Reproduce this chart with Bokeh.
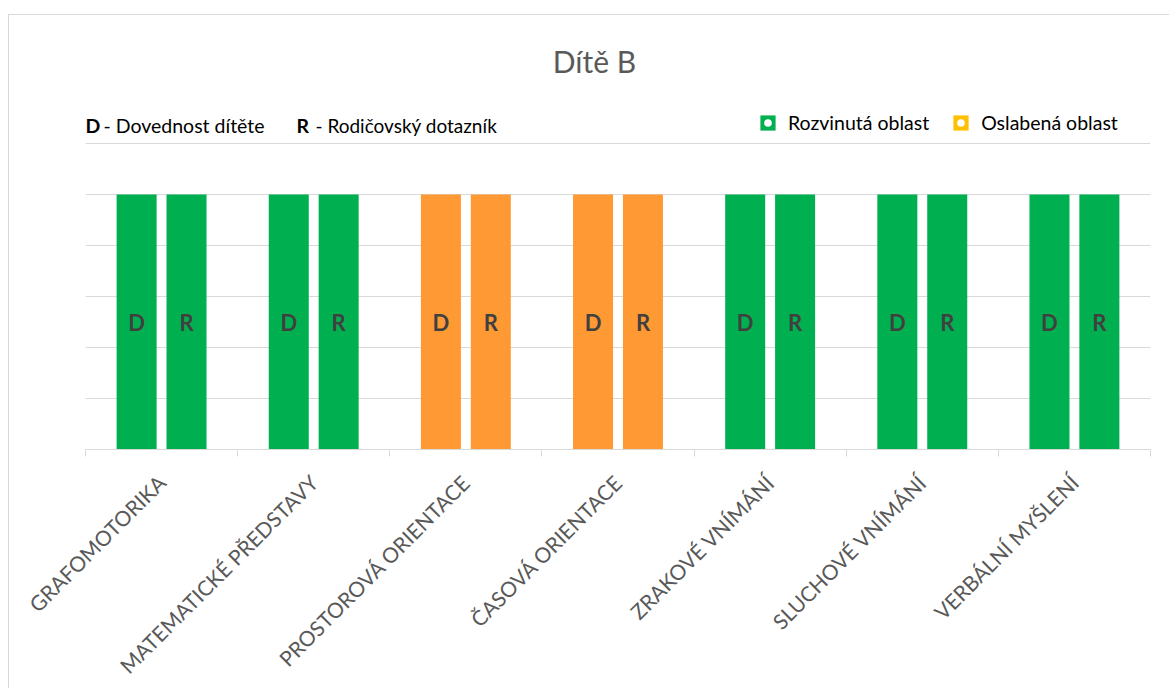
import numpy as np
from bokeh.plotting import figure
from bokeh.models import (ColumnDataSource, FixedTicker, Label, Legend, LegendItem, Range1d)
from bokeh.core.properties import value
from bokeh.embed import file_html
from bokeh.resources import INLINE

# --- data -------------------------------------------------------------
categories = [
    "GRAFOMOTORIKA",
    "MATEMATICKÉ PŘEDSTAVY",
    "PROSTOROVÁ ORIENTACE",
    "ČASOVÁ ORIENTACE",
    "ZRAKOVÉ VNÍMÁNÍ",
    "SLUCHOVÉ VNÍMÁNÍ",
    "VERBÁLNÍ MYŠLENÍ",
]
skill_values = [5, 5, 5, 5, 5, 5, 5]        # D - Dovednost dítěte
parent_values = [5, 5, 5, 5, 5, 5, 5]       # R - Rodičovský dotazník
skill_status = ["R", "R", "O", "O", "R", "R", "R"]    # R = rozvinutá, O = oslabená
parent_status = ["R", "R", "O", "O", "R", "R", "R"]
series_letters = ["D", "R"]
grid_levels = [1, 2, 3, 4, 5, 6]

# --- styling ----------------------------------------------------------
FONT = "Lato"
GREEN = "#00B050"
ORANGE = "#FF9933"
GOLD = "#FFC000"
GRID = "#D9D9D9"
bar_colors = {"R": GREEN, "O": ORANGE}

n = len(categories)
centers = np.arange(n) + 0.5
bar_w = 0.263
offset = 0.164

xs, tops, colors, letters = [], [], [], []
for i in range(n):
    for k, (vals, stat) in enumerate([(skill_values, skill_status), (parent_values, parent_status)]):
        xs.append(centers[i] + (-offset if k == 0 else offset))
        tops.append(vals[i])
        colors.append(bar_colors[stat[i]])
        letters.append(series_letters[k])

src = ColumnDataSource(dict(x=xs, top=tops, mid=[t / 2 for t in tops], color=colors, letter=letters))

# the plotting frame also holds the heading area above the top gridline
FRAME_H = 434
GRID_H = 306
y_end = max(grid_levels) * FRAME_H / GRID_H

p = figure(
    width=1161, height=674,
    x_range=Range1d(0, n), y_range=Range1d(0, y_end),
    output_backend="svg", toolbar_location=None,
    min_border_left=76, min_border_right=20, min_border_top=0, min_border_bottom=240,
)
p.styles = {
    "margin-left": "8px", "margin-top": "14px",
    "border-left": f"1px solid {GRID}", "border-top": f"1px solid {GRID}",
}
p.outline_line_color = None
p.background_fill_color = "white"
p.border_fill_color = "white"

p.vbar(x="x", top="top", bottom=0, width=bar_w, source=src, fill_color="color", line_color=None)
p.text(x="x", y="mid", text="letter", source=src, text_font=value(FONT), text_font_style="bold",
       text_font_size="22px", text_color="#404040", text_align="center", text_baseline="middle")

# axes / grid
p.yaxis.visible = False
p.ygrid.ticker = FixedTicker(ticks=grid_levels)
p.ygrid.grid_line_color = GRID
p.ygrid.grid_line_width = 1
p.xgrid.visible = False

xa = p.xaxis[0]
xa.ticker = FixedTicker(ticks=list(centers), minor_ticks=list(range(n + 1)))
xa.major_label_overrides = {float(c): name for c, name in zip(centers, categories)}
xa.major_tick_line_color = None
xa.minor_tick_line_color = GRID
xa.minor_tick_out = 7
xa.minor_tick_in = 0
xa.axis_line_color = GRID
xa.major_label_orientation = np.pi / 4
xa.major_label_text_font = FONT
xa.major_label_text_font_size = "21px"
xa.major_label_text_color = "#595959"
xa.major_label_standoff = 22

# legend: coloured square with a white dot
keys = []
for color in (GREEN, GOLD):
    sq = p.vbar(x=centers, top=skill_values, width=0, fill_color=color, line_color=None)
    dot = p.scatter(x=centers, y=skill_values, size=0, marker="circle", fill_color="white", line_color=None)
    keys.append([sq, dot])
legend = Legend(
    items=[LegendItem(label="Rozvinutá oblast", renderers=keys[0]),
           LegendItem(label="Oslabená oblast", renderers=keys[1])],
    orientation="horizontal", location=(673, 315),
    glyph_width=19, glyph_height=19, label_standoff=11, spacing=22,
    padding=0, margin=0, border_line_color=None, background_fill_alpha=0,
    label_text_font=FONT, label_text_font_size="19.5px", label_text_color="#000000",
)
p.add_layout(legend)

# title and series key
def add_label(text, x, y, size, color, style="normal", align="left"):
    p.add_layout(Label(x=x, y=y, x_units="screen", y_units="screen", text=text,
                       text_font=FONT, text_font_size=size, text_color=color,
                       text_font_style=style, text_align=align, text_baseline="middle"))

add_label("Dítě B", 509, 389, "30px", "#595959", align="center")
add_label("D", 0, 324, "19.5px", "#000000", style="bold")
add_label("- Dovednost dítěte", 18, 324, "19.5px", "#000000")
add_label("R", 211, 324, "19.5px", "#000000", style="bold")
add_label("- Rodičovský dotazník", 230, 324, "19px", "#000000")

open("out.html", "w").write(file_html(p, INLINE))
